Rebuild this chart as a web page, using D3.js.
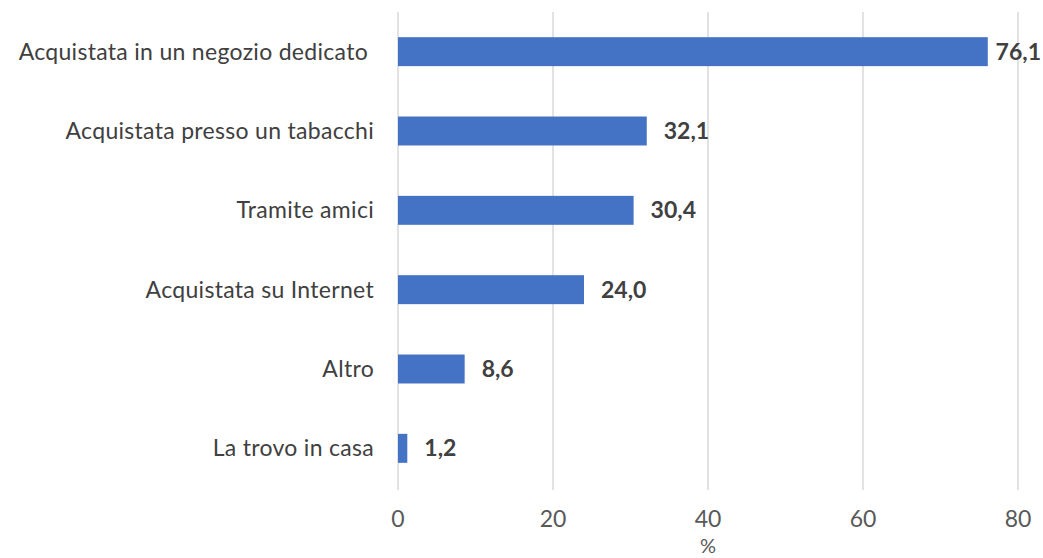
<!DOCTYPE html>
<html><head><meta charset="utf-8">
<script src="https://cdn.jsdelivr.net/npm/d3@7"></script>
<style>
html,body{margin:0;padding:0;background:#fff;}
svg{display:block;}
text{font-family:Lato,"Open Sans",sans-serif;}
</style></head>
<body>
<svg id="chart" width="1043" height="558"></svg>
<script>
const categories = ["Acquistata in un negozio dedicato","Acquistata presso un tabacchi","Tramite amici","Acquistata su Internet","Altro","La trovo in casa"];
const values = [76.1, 32.1, 30.4, 24.0, 8.6, 1.2];
const tickValues = [0, 20, 40, 60, 80];
const axisTitle = "%";

(function(){
const svg = d3.select("#chart");
const W = 1043, H = 558;
const mLeft = 398, mRight = 1018, mTop = 12, mBottom = 488;
const FS = 23;

const x = d3.scaleLinear().domain([0, 80]).range([mLeft, mRight]);
const y = d3.scaleBand().domain(categories).range([mTop, mBottom]).paddingInner(0.635).paddingOuter(0.3175);

const fmt = v => d3.format(".1f")(v).replace(".", ",");

svg.append("g").selectAll("line").data(tickValues).join("line")
  .attr("x1", d => x(d)).attr("x2", d => x(d))
  .attr("y1", mTop).attr("y2", mBottom + 2)
  .attr("stroke", "#d9d9d9").attr("stroke-width", 1.5);

svg.append("g").selectAll("rect").data(values).join("rect")
  .attr("x", x(0))
  .attr("y", (d, i) => y(categories[i]))
  .attr("width", d => x(d) - x(0))
  .attr("height", y.bandwidth())
  .attr("fill", "#4472c4");

svg.append("g").selectAll("text").data(categories).join("text")
  .attr("x", (d, i) => i === 0 ? mLeft - 30 : mLeft - 24)
  .attr("y", d => y(d) + y.bandwidth() / 2)
  .attr("dy", "0.35em")
  .attr("text-anchor", "end")
  .attr("fill", "#404040")
  .attr("font-size", FS)
  .attr("letter-spacing", 0.3)
  .text(d => d);

const vl = svg.append("g").selectAll("text").data(values).join("text")
  .attr("y", (d, i) => y(categories[i]) + y.bandwidth() / 2)
  .attr("dy", "0.35em")
  .attr("fill", "#404040")
  .attr("font-size", FS)
  .attr("font-weight", "bold")
  .text(d => fmt(d));
vl.each(function(d) {
  const w = this.getComputedTextLength();
  let px = x(d) + 17;
  if (px + w > W - 2) px = W - 2 - w;
  d3.select(this).attr("x", px);
});

svg.append("g").selectAll("text").data(tickValues).join("text")
  .attr("x", d => x(d)).attr("y", 519)
  .attr("dy", "0.35em")
  .attr("text-anchor", "middle")
  .attr("fill", "#595959")
  .attr("font-size", FS)
  .text(d => d);

svg.append("text")
  .attr("x", x(40)).attr("y", 546).attr("dy", "0.35em")
  .attr("text-anchor", "middle").attr("fill", "#595959")
  .attr("font-size", 20).text(axisTitle);
})();
</script>
</body></html>
